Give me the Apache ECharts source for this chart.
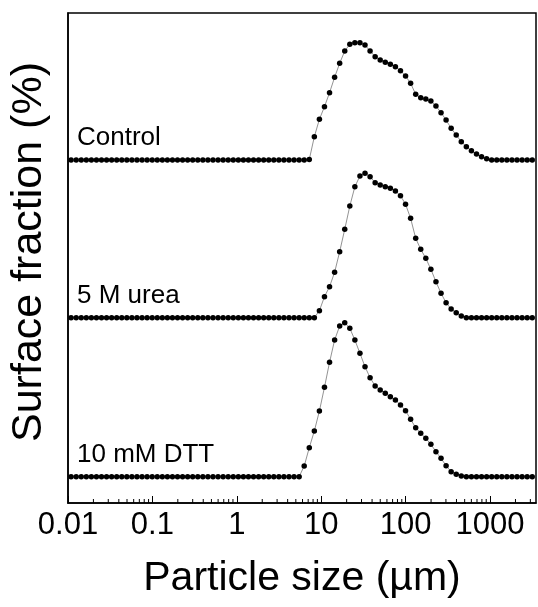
<!DOCTYPE html>
<html>
<head>
<meta charset="utf-8">
<script src="https://cdn.jsdelivr.net/npm/echarts@6/dist/echarts.min.js"></script>
<style>
html, body { margin: 0; padding: 0; background: #fff; }
#chart { width: 538px; height: 607px; }
</style>
</head>
<body>
<div id="chart"></div>
<script>
// size classes (µm), log spaced
var sizes = [
  0.01088, 0.01250, 0.01435, 0.01648, 0.01892, 0.02173, 0.02494, 0.02864, 0.03288, 0.03776,
  0.04335, 0.04977, 0.05715, 0.06562, 0.07534, 0.08650, 0.09936, 0.1141, 0.1310, 0.1504,
  0.1727, 0.1983, 0.2277, 0.2615, 0.3001, 0.3447, 0.3958, 0.4545, 0.5220, 0.5994,
  0.6882, 0.7901, 0.9072, 1.042, 1.196, 1.373, 1.577, 1.811, 2.080, 2.388,
  2.742, 3.148, 3.614, 4.150, 4.766, 5.472, 6.283, 7.214, 8.283, 9.510,
  10.92, 12.54, 14.40, 16.53, 18.98, 21.80, 25.02, 28.74, 33.00, 37.89,
  43.51, 49.95, 57.35, 65.85, 75.61, 86.84, 99.70, 114.5, 131.5, 150.9,
  173.3, 199.0, 228.5, 262.4, 301.3, 345.9, 397.2, 456.1, 523.7, 601.3,
  690.4, 792.8, 910.4, 1045, 1200, 1378, 1582, 1817, 2086, 2395,
  2750, 3158
];

// surface fraction (%) per size class
var control = [
  0, 0, 0, 0, 0, 0, 0, 0, 0, 0,
  0, 0, 0, 0, 0, 0, 0, 0, 0, 0,
  0, 0, 0, 0, 0, 0, 0, 0, 0, 0,
  0, 0, 0, 0, 0, 0, 0, 0, 0, 0,
  0, 0, 0, 0, 0, 0, 0, 0.05, 2.33, 4.07,
  5.33, 6.73, 8.27, 9.67, 10.9, 11.57, 11.73, 11.73, 11.5, 10.9,
  10.33, 10.0, 9.77, 9.57, 9.33, 8.93, 8.4, 7.67, 6.57, 6.23,
  6.1, 5.9, 5.4, 4.73, 4.0, 3.17, 2.5, 1.83, 1.33, 0.93,
  0.6, 0.33, 0.13, 0, 0, 0, 0, 0, 0, 0,
  0, 0
];
var urea = [
  0, 0, 0, 0, 0, 0, 0, 0, 0, 0,
  0, 0, 0, 0, 0, 0, 0, 0, 0, 0,
  0, 0, 0, 0, 0, 0, 0, 0, 0, 0,
  0, 0, 0, 0, 0, 0, 0, 0, 0, 0,
  0, 0, 0, 0, 0, 0, 0, 0, 0, 0.7,
  2.1, 3.1, 4.54, 6.6, 8.84, 11.17, 13.1, 14.17, 14.44, 14.1,
  13.5, 13.27, 13.1, 12.94, 12.67, 12.2, 11.34, 9.94, 7.94, 6.84,
  5.94, 4.84, 3.6, 2.44, 1.5, 0.87, 0.5, 0.17, 0, 0,
  0, 0, 0, 0, 0, 0, 0, 0, 0, 0,
  0, 0
];
var dtt = [
  0, 0, 0, 0, 0, 0, 0, 0, 0, 0,
  0, 0, 0, 0, 0, 0, 0, 0, 0, 0,
  0, 0, 0, 0, 0, 0, 0, 0, 0, 0,
  0, 0, 0, 0, 0, 0, 0, 0, 0, 0,
  0, 0, 0, 0, 0, 0, 1.07, 2.9, 4.57, 6.57,
  8.94, 11.44, 13.67, 15.07, 15.4, 14.84, 13.67, 12.34, 11.0, 9.9,
  9.07, 8.67, 8.34, 8.0, 7.67, 7.17, 6.6, 5.74, 4.9, 4.34,
  3.84, 3.24, 2.5, 1.84, 1.1, 0.5, 0.24, 0.07, 0, 0,
  0, 0, 0, 0, 0, 0, 0, 0, 0, 0,
  0, 0
];

var names = ['Control', '5 M urea', '10 mM DTT'];
var offsets = [34.3, 18.53, 2.63];
var minorTicks = [
  0.02, 0.03, 0.04, 0.05, 0.06, 0.07, 0.08, 0.09,
  0.2, 0.3, 0.4, 0.5, 0.6, 0.7, 0.8, 0.9,
  2, 3, 4, 5, 6, 7, 8, 9,
  20, 30, 40, 50, 60, 70, 80, 90,
  200, 300, 400, 500, 600, 700, 800, 900,
  2000, 3000
];

var font = 'Liberation Sans, Arial, sans-serif';
var myChart = echarts.init(document.getElementById('chart'));

var curves = [control, urea, dtt];
var series = curves.map(function (vals, k) {
  return {
    name: names[k],
    type: 'line',
    data: sizes.map(function (s, i) { return [s, vals[i] + offsets[k]]; }),
    symbol: 'circle',
    symbolSize: 5.5,
    showAllSymbol: true,
    itemStyle: { color: '#000' },
    lineStyle: { color: '#777', width: 0.8 },
    z: 3
  };
});
// minor ticks of the log axis (inside, pointing up)
series.push({
  type: 'custom',
  silent: true,
  z: 5,
  data: minorTicks.map(function (v) { return [v, 0]; }),
  renderItem: function (params, api) {
    var p = api.coord([api.value(0), 0]);
    return {
      type: 'line',
      shape: { x1: p[0], y1: p[1], x2: p[0], y2: p[1] - 4 },
      style: { stroke: '#000', lineWidth: 1 }
    };
  }
});

var option = {
  animation: false,
  backgroundColor: '#fff',
  grid: {
    left: 68,
    right: 2,
    top: 13,
    bottom: 104,
    show: true,
    borderColor: '#000',
    borderWidth: 1.5
  },
  xAxis: {
    type: 'log',
    logBase: 10,
    min: 0.01,
    max: 3500,
    name: 'Particle size (µm)',
    nameLocation: 'middle',
    nameGap: 55,
    nameTextStyle: { fontFamily: font, fontSize: 41, color: '#000' },
    axisLine: { lineStyle: { color: '#000', width: 1.5 } },
    axisTick: { inside: true, length: 7, lineStyle: { color: '#000' } },
    axisLabel: {
      fontFamily: font,
      fontSize: 31,
      color: '#000',
      margin: 7,
      showMaxLabel: false,
      formatter: function (v) { return String(+v.toPrecision(3)); }
    },
    splitLine: { show: false }
  },
  yAxis: {
    type: 'value',
    min: 0,
    max: 49,
    name: 'Surface fraction (%)',
    nameLocation: 'middle',
    nameGap: 17,
    nameTextStyle: { fontFamily: font, fontSize: 43, color: '#000', padding: [0, 0, 0, 12] },
    axisLine: { lineStyle: { color: '#000', width: 1.5 } },
    axisTick: { show: false },
    axisLabel: { show: false },
    splitLine: { show: false }
  },
  series: series
};
myChart.setOption(option);

// curve labels just above each baseline
var labels = names.map(function (n, k) {
  var p = myChart.convertToPixel({ gridIndex: 0 }, [sizes[0], offsets[k]]);
  return {
    type: 'text',
    x: 77,
    y: p[1] - 22,
    style: {
      text: n,
      font: '26px ' + font,
      fill: '#000',
      verticalAlign: 'middle'
    },
    z: 10
  };
});
myChart.setOption({ graphic: labels });
</script>
</body>
</html>
